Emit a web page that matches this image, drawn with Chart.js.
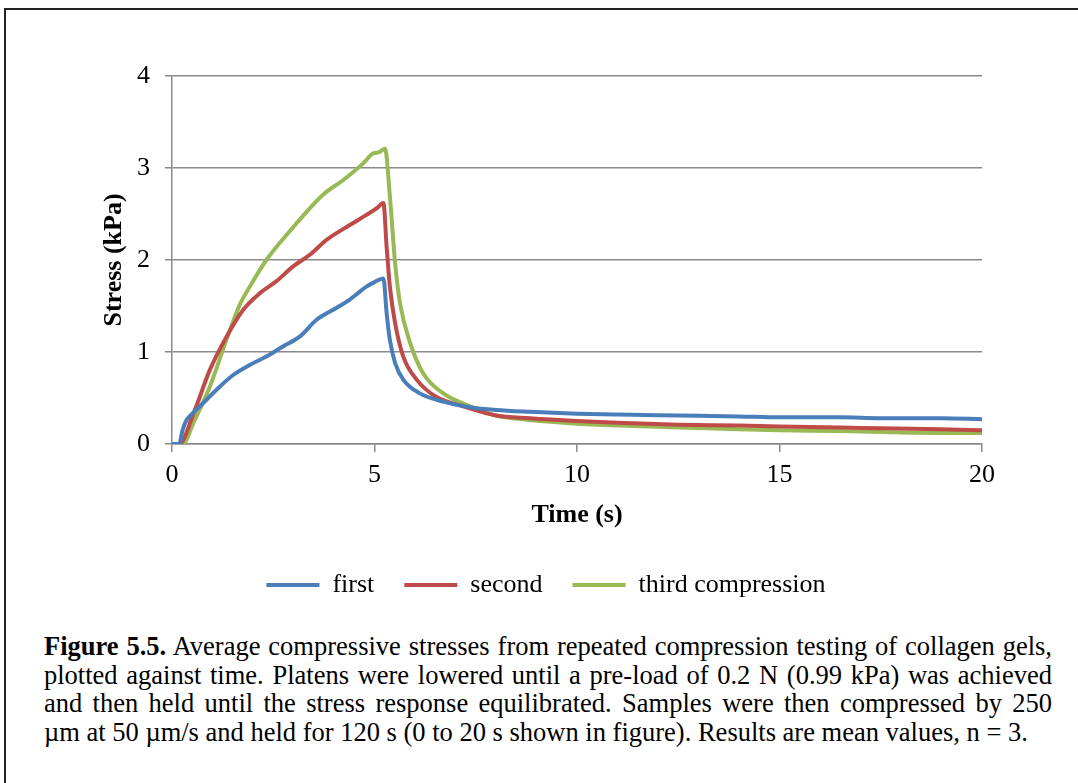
<!DOCTYPE html>
<html>
<head>
<meta charset="utf-8">
<script src="https://cdn.jsdelivr.net/npm/chart.js@4"></script>
<style>
  html, body { margin: 0; padding: 0; background: #fff; overflow: hidden; }
  body { width: 1078px; height: 783px; position: relative; }
  .frame { position: absolute; left: 4px; top: 8px; width: 1100px; height: 800px; border: 2px solid #222; box-sizing: border-box; }
  .chart-box { position: absolute; left: 0; top: 0; width: 1078px; height: 626px; }
  .caption { position: absolute; left: 44px; top: 632px; width: 1008px; font-family: "Liberation Serif", "Times New Roman", serif; font-size: 26.5px; line-height: 28.7px; color: #000; }
  .caption div { text-align: justify; text-align-last: justify; white-space: nowrap; }
  .caption div.last { text-align-last: left; }
</style>
</head>
<body>
<div class="frame"></div>
<div class="chart-box"><canvas id="chart" width="1078" height="626"></canvas></div>
<div class="caption">
  <div><b>Figure 5.5.</b> Average compressive stresses from repeated compression testing of collagen gels,</div>
  <div>plotted against time. Platens were lowered until a pre-load of 0.2 N (0.99 kPa) was achieved</div>
  <div>and then held until the stress response equilibrated. Samples were then compressed by 250</div>
  <div class="last">µm at 50 µm/s and held for 120 s (0 to 20 s shown in figure). Results are mean values, n = 3.</div>
</div>
<script>
  const seriesLabels = ['first', 'second', 'third compression'];
  const seriesColors = ['#4a7ebb', '#be4b48', '#98b954'];

  const timeFirst = [0, 0.18, 0.26, 0.36, 0.5, 0.69, 1.1, 1.51, 1.92, 2.33, 2.74, 3.16, 3.57, 3.98, 4.39, 4.8, 5.0, 5.22, 5.30, 5.38, 5.51, 5.71, 6.12, 6.7, 7.36, 8.0, 8.84, 10.0, 11.0, 12.5, 14.0, 15.0, 16.5, 17.5, 19.0, 20];
  const stressFirst = [0, 0, 0.15, 0.26, 0.33, 0.41, 0.59, 0.75, 0.86, 0.95, 1.06, 1.17, 1.35, 1.46, 1.57, 1.71, 1.76, 1.80, 1.42, 1.13, 0.88, 0.70, 0.55, 0.46, 0.40, 0.37, 0.35, 0.33, 0.32, 0.31, 0.30, 0.29, 0.29, 0.28, 0.28, 0.27];

  const timeSecond = [0, 0.18, 0.53, 0.93, 1.35, 1.76, 2.17, 2.58, 2.99, 3.41, 3.82, 4.39, 4.8, 5.05, 5.22, 5.30, 5.38, 5.51, 5.71, 6.04, 6.53, 7.19, 8.0, 8.84, 10.0, 11.0, 12.5, 14.0, 15.0, 16.5, 17.5, 19.0, 20];
  const stressSecond = [0, 0, 0.33, 0.80, 1.17, 1.46, 1.64, 1.77, 1.93, 2.06, 2.22, 2.38, 2.49, 2.56, 2.62, 2.14, 1.71, 1.31, 0.95, 0.70, 0.51, 0.41, 0.31, 0.28, 0.25, 0.23, 0.21, 0.20, 0.19, 0.18, 0.17, 0.16, 0.15];

  const timeThird = [0, 0.27, 0.53, 0.93, 1.35, 1.68, 1.92, 2.33, 2.9, 3.73, 4.23, 4.72, 4.97, 5.1, 5.26, 5.38, 5.51, 5.63, 5.88, 6.2, 6.7, 7.36, 8.0, 8.84, 10.0, 11.0, 12.5, 14.0, 15.0, 16.5, 17.5, 19.0, 20];
  const stressThird = [0, 0, 0.23, 0.62, 1.14, 1.52, 1.71, 2.0, 2.31, 2.71, 2.87, 3.05, 3.16, 3.17, 3.21, 2.69, 1.96, 1.53, 1.10, 0.77, 0.55, 0.41, 0.31, 0.26, 0.22, 0.20, 0.18, 0.16, 0.15, 0.14, 0.13, 0.12, 0.12];

  const xTicks = [0, 5, 10, 15, 20];
  const yTicks = [0, 1, 2, 3, 4];

  const toPoints = (ts, ss) => ts.map((t, i) => ({ x: t, y: ss[i] }));
  const seriesData = [
    toPoints(timeFirst, stressFirst),
    toPoints(timeSecond, stressSecond),
    toPoints(timeThird, stressThird),
  ];

  const serif = '"Liberation Serif", "Times New Roman", serif';
  const axisGray = '#8a8a8a';

  // nudge the legend a little to the right, like the original
  const legendShift = {
    id: 'legendShift',
    afterLayout(chart) {
      chart.legend.left += 9;
      chart.legend.right += 9;
    },
  };

  new Chart(document.getElementById('chart'), {
    type: 'line',
    data: {
      datasets: seriesLabels.map((label, i) => ({
        label,
        data: seriesData[i],
        borderColor: seriesColors[i],
        backgroundColor: seriesColors[i],
        borderWidth: 4,
        pointRadius: 0,
        cubicInterpolationMode: 'monotone',
        fill: false,
      })),
    },
    options: {
      responsive: false,
      animation: false,
      devicePixelRatio: 1,
      layout: { padding: { left: 92, right: 96, top: 76, bottom: 18 } },
      scales: {
        x: {
          type: 'linear',
          min: 0,
          max: 20,
          afterBuildTicks: (scale) => { scale.ticks = xTicks.map((v) => ({ value: v })); },
          afterFit: (scale) => { scale.height = 98; },
          grid: { drawOnChartArea: false, drawTicks: true, tickLength: 8, color: axisGray, lineWidth: 1.5 },
          border: { color: axisGray, width: 1.5 },
          ticks: { color: '#000', padding: 8, font: { family: serif, size: 26 } },
          title: { display: true, text: 'Time (s)', color: '#000', padding: { top: 0, bottom: 11 }, font: { family: serif, size: 26, weight: 'bold' } },
        },
        y: {
          type: 'linear',
          min: 0,
          max: 4,
          afterBuildTicks: (scale) => { scale.ticks = yTicks.map((v) => ({ value: v })); },
          afterFit: (scale) => { scale.width = 80; },
          grid: { color: axisGray, lineWidth: 1.5, tickLength: 7 },
          border: { color: axisGray, width: 1.5 },
          ticks: { color: '#000', padding: 15, font: { family: serif, size: 26 } },
          title: { display: true, text: 'Stress (kPa)', color: '#000', padding: { top: 7, bottom: 0 }, font: { family: serif, size: 26, weight: 'bold' } },
        },
      },
      plugins: {
        legend: {
          position: 'bottom',
          labels: {
            usePointStyle: true,
            pointStyle: 'line',
            pointStyleWidth: 53,
            padding: 30,
            color: '#000',
            font: { family: serif, size: 26 },
          },
        },
        tooltip: { enabled: false },
      },
    },
    plugins: [legendShift],
  });
</script>
</body>
</html>
